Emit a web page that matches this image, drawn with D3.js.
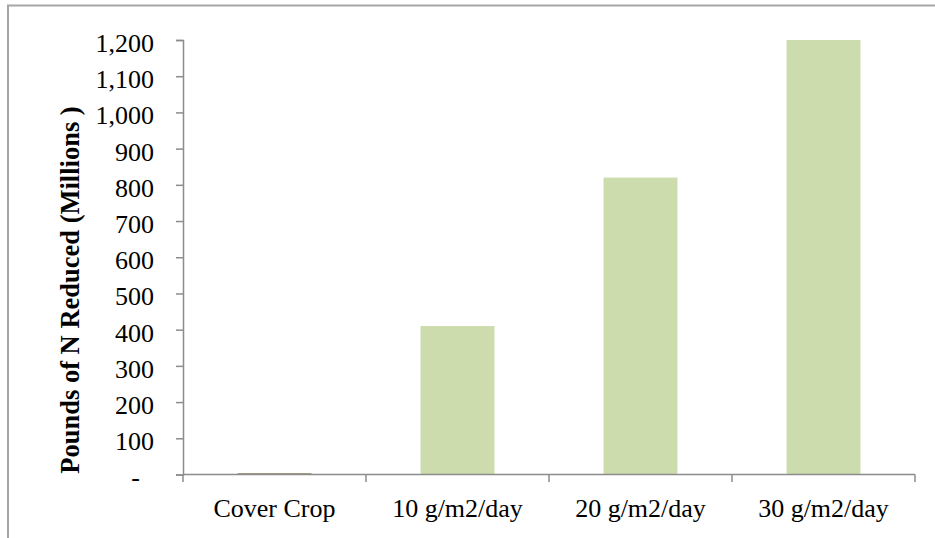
<!DOCTYPE html>
<html>
<head>
<meta charset="utf-8">
<script src="https://cdn.jsdelivr.net/npm/d3@7/dist/d3.min.js"></script>
<style>
  html, body { margin: 0; padding: 0; background: #fff; }
  svg { display: block; }
  text { font-family: "Liberation Serif", "Times New Roman", serif; }
</style>
</head>
<body>
<svg id="chart" width="935" height="538"></svg>
<script>
const categories = ["Cover Crop", "10 g/m2/day", "20 g/m2/day", "30 g/m2/day"];
const values = [4, 410, 820, 1200];
const barColors = ["#a09c78", "#cddcac", "#cddcac", "#cddcac"];
const yTicks = [0, 100, 200, 300, 400, 500, 600, 700, 800, 900, 1000, 1100, 1200];
const yTitle = "Pounds of N Reduced (Millions )";

const svg = d3.select("#chart");
const W = 935, H = 538;
const plot = { left: 183, right: 915, top: 40, bottom: 474.5 };
const axisColor = "#8c8c8c";

// outer chart-area border
svg.append("path")
  .attr("d", `M8,${H} L8,5.5 L${W},5.5`)
  .attr("fill", "none")
  .attr("stroke", "#a6a6a6")
  .attr("stroke-width", 2);

const x = d3.scaleBand()
  .domain(categories)
  .range([plot.left, plot.right])
  .paddingInner(0.596)
  .paddingOuter(0.298);

const y = d3.scaleLinear()
  .domain([0, 1200])
  .range([plot.bottom, plot.top]);

// bars
svg.append("g").selectAll("rect")
  .data(categories)
  .join("rect")
  .attr("x", d => x(d))
  .attr("width", x.bandwidth())
  .attr("y", (d, i) => y(values[i]))
  .attr("height", (d, i) => y(0) - y(values[i]))
  .attr("fill", (d, i) => barColors[i]);

// y axis
const fmt = d3.format(",");
const yAxis = d3.axisLeft(y)
  .tickValues(yTicks)
  .tickSize(7)
  .tickPadding(22)
  .tickFormat(d => d === 0 ? "-" : fmt(d));
const gy = svg.append("g")
  .attr("transform", `translate(${plot.left},0)`)
  .call(yAxis);
gy.select(".domain").attr("stroke", axisColor).attr("stroke-width", 1.5);
gy.selectAll(".tick line").attr("stroke", axisColor).attr("stroke-width", 1.5);
gy.selectAll(".tick text")
  .attr("fill", "#000")
  .attr("font-size", 26)
  .attr("font-family", "'Liberation Serif', 'Times New Roman', serif")
  .attr("dy", "0.44em");
gy.selectAll(".tick text").filter(d => d === 0).attr("x", -43);

// x axis (ticks at category boundaries)
const xAxisLine = svg.append("g");
const boundaries = categories.map(c => x(c) - x.step() * x.paddingInner() / 2)
  .concat([plot.right]);
boundaries[0] = plot.left;
xAxisLine.append("line")
  .attr("x1", plot.left).attr("x2", plot.right)
  .attr("y1", y(0)).attr("y2", y(0))
  .attr("stroke", axisColor).attr("stroke-width", 1.5);
xAxisLine.selectAll("line.tk")
  .data(boundaries)
  .join("line")
  .attr("class", "tk")
  .attr("x1", d => d).attr("x2", d => d)
  .attr("y1", y(0)).attr("y2", y(0) + 7.5)
  .attr("stroke", axisColor).attr("stroke-width", 1.5);
xAxisLine.selectAll("text")
  .data(categories)
  .join("text")
  .attr("x", d => x(d) + x.bandwidth() / 2)
  .attr("y", y(0) + 42.5)
  .attr("text-anchor", "middle")
  .attr("font-size", 26)
  .attr("fill", "#000")
  .text(d => d);

// y axis title
svg.append("text")
  .attr("transform", `translate(79,290) rotate(-90)`)
  .attr("text-anchor", "middle")
  .attr("font-size", 26.5)
  .attr("font-weight", "bold")
  .attr("fill", "#000")
  .text(yTitle);
</script>
</body>
</html>
